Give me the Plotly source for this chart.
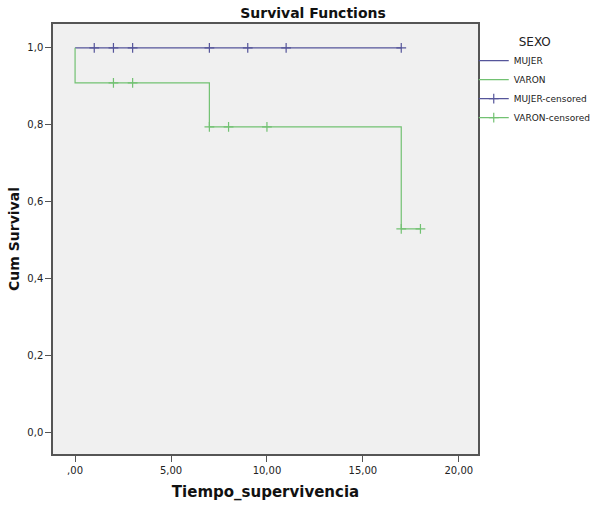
import plotly.graph_objects as go

# Data
mujer_time = [0, 17]
mujer_surv = [1.0, 1.0]
mujer_cens_time = [1, 2, 3, 7, 9, 11, 17]
mujer_cens_surv = [1.0, 1.0, 1.0, 1.0, 1.0, 1.0, 1.0]

varon_time = [0, 0, 7, 17, 18]
varon_surv = [1.0, 0.909, 0.795, 0.530, 0.530]
varon_cens_time = [2, 3, 7, 8, 10, 17, 18]
varon_cens_surv = [0.909, 0.909, 0.795, 0.795, 0.795, 0.530, 0.530]

x_tickvals = [0, 5, 10, 15, 20]
x_ticktext = [",00", "5,00", "10,00", "15,00", "20,00"]
y_tickvals = [0, 0.2, 0.4, 0.6, 0.8, 1.0]
y_ticktext = ["0,0", "0,2", "0,4", "0,6", "0,8", "1,0"]

c_mujer = "#55559a"
c_varon = "#72c172"


def isolated(xs, ys):
    # separate points with gaps so no segment joins them (legend still shows line + marker)
    ox, oy = [], []
    for a, b in zip(xs, ys):
        ox += [a, None]
        oy += [b, None]
    return ox, oy


fig = go.Figure()
fig.add_trace(go.Scatter(x=mujer_time, y=mujer_surv, mode="lines", line=dict(color=c_mujer, width=1.2, shape="hv"),
                         name="MUJER"))
fig.add_trace(go.Scatter(x=varon_time, y=varon_surv, mode="lines", line=dict(color=c_varon, width=1.2, shape="hv"),
                         name="VARON"))
mx, my = isolated(mujer_cens_time, mujer_cens_surv)
fig.add_trace(go.Scatter(x=mx, y=my, mode="lines+markers", connectgaps=False,
                         line=dict(color=c_mujer, width=1.2),
                         marker=dict(symbol="cross-thin", size=7, line=dict(color=c_mujer, width=1.2)),
                         name="MUJER-censored"))
vx, vy = isolated(varon_cens_time, varon_cens_surv)
fig.add_trace(go.Scatter(x=vx, y=vy, mode="lines+markers", connectgaps=False,
                         line=dict(color=c_varon, width=1.2),
                         marker=dict(symbol="cross-thin", size=7, line=dict(color=c_varon, width=1.2)),
                         name="VARON-censored"))

fig.update_layout(
    width=600, height=508,
    margin=dict(l=53, r=122, t=24, b=54, autoexpand=False),
    paper_bgcolor="white",
    plot_bgcolor="#f0f0f0",
    font=dict(family="DejaVu Sans", color="#222", size=10),
    title=dict(text="<b>Survival Functions</b>", x=313/600, xref="container", xanchor="center",
               y=1 - 13/508, yref="container", yanchor="middle", font=dict(size=14, color="#111")),
    legend=dict(x=0.99, y=0.985, xanchor="left", yanchor="top",
                title=dict(text="SEXO", side="top center", font=dict(size=12, color="#222")),
                font=dict(size=9, color="#222"), bgcolor="rgba(0,0,0,0)",
                tracegroupgap=0, itemwidth=30),
    showlegend=True,
)
fig.update_xaxes(range=[-1.15, 21.0], tickvals=x_tickvals, ticktext=x_ticktext, automargin=False,
                 showgrid=False, zeroline=False, showline=True, linecolor="#555", linewidth=1.5, mirror=True,
                 ticks="outside", ticklen=6, tickcolor="#555",
                 title=dict(text="<b>Tiempo_supervivencia</b>", font=dict(size=15, color="#111"), standoff=12))
fig.update_yaxes(range=[-0.055, 1.062], tickvals=y_tickvals, ticktext=y_ticktext, automargin=False,
                 showgrid=False, zeroline=False, showline=True, linecolor="#555", linewidth=1.5, mirror=True,
                 ticks="outside", ticklen=6, tickcolor="#555",
                 title=dict(text="<b>Cum Survival</b>", font=dict(size=14, color="#111"), standoff=4))

fig.write_html("out.html", config={"displayModeBar": False},
               post_script="document.body.style.margin='0';document.body.style.overflow='hidden';")
